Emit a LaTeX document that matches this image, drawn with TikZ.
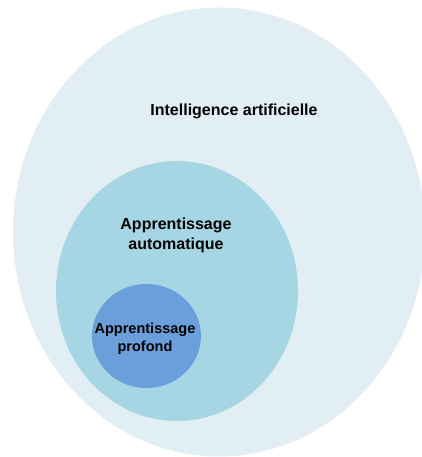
\documentclass[tikz,border=0pt]{standalone}
\usepackage{fontspec}
\setmainfont{Liberation Sans}
\usetikzlibrary{shapes.geometric}
\definecolor{outerc}{HTML}{E1EFF5}
\definecolor{midc}{HTML}{A6D6E3}
\definecolor{innerc}{HTML}{6A9FDC}
\begin{document}
\begin{tikzpicture}[x=1pt,y=-1pt,
  blob/.style={ellipse, inner sep=0pt, draw=none},
  lbl/.style={align=center, text=black, inner sep=0pt}]
\useasboundingbox (0,0) rectangle (422,457);
\clip (0,0) rectangle (422,457);
\fill[white] (0,0) rectangle (422,457);
\node[blob, minimum width=412pt, minimum height=449pt, fill=outerc] (ai) at (219,232) {};
\node[blob, minimum width=242pt, minimum height=260pt, fill=midc] (ml) at (177,291) {};
\node[blob, minimum width=109pt, minimum height=104pt, fill=innerc] (dl) at (146.5,336) {};
\node[lbl, font=\fontsize{16}{20}\selectfont\bfseries] (tai) at (234,111.5) {Intelligence artificielle};
\node[lbl, font=\fontsize{16}{20}\selectfont\bfseries] (tml) at (176,235.5) {Apprentissage\\automatique};
\node[lbl, font=\fontsize{14.5}{18}\selectfont\bfseries] (tdl) at (145,338.5) {Apprentissage\\profond};
\end{tikzpicture}
\end{document}
